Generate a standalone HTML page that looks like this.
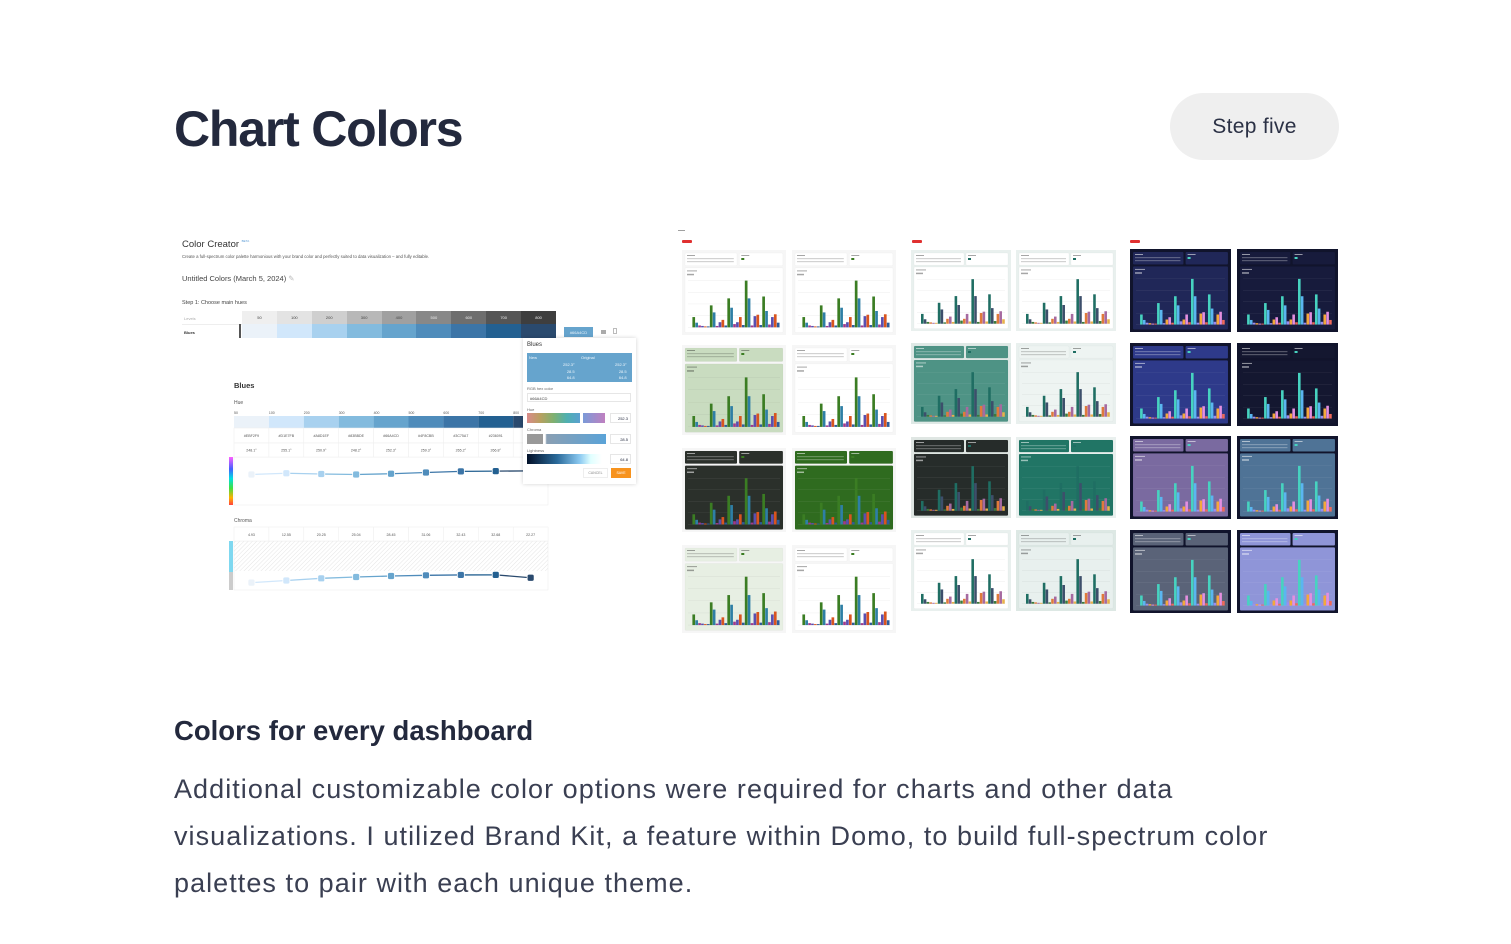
<!DOCTYPE html>
<html><head><meta charset="utf-8">
<style>
html,body{margin:0;padding:0;background:#fff;}
body{width:1511px;height:944px;position:relative;overflow:hidden;font-family:"Liberation Sans",sans-serif;color:#262c40;}
.a{position:absolute;}
#title{left:174px;top:100px;font-size:50px;font-weight:bold;letter-spacing:-1.2px;color:#23293d;margin:0;white-space:nowrap;}
#step{left:1170px;top:93px;width:169px;height:67px;border-radius:34px;background:#efefef;font-size:21px;letter-spacing:0.3px;color:#2b3145;display:flex;align-items:center;justify-content:center;}
#sub{left:174px;top:715px;font-size:27.5px;font-weight:bold;color:#23293d;margin:0;white-space:nowrap;letter-spacing:0px;}
#para{left:174px;top:766px;font-size:27px;line-height:47px;letter-spacing:1.05px;color:#3a3f52;margin:0;white-space:nowrap;}
.t{font-size:5px;color:#555;white-space:nowrap;}
</style></head><body>
<h1 id="title" class="a">Chart Colors</h1>
<div id="step" class="a">Step five</div>

<div id="creator">
  <div class="a" style="left:182px;top:239px;font-size:9.5px;color:#333;">Color Creator <span style="font-size:3px;color:#5a9bd5;vertical-align:top">BETA</span></div>
  <div class="a t" style="left:182px;top:254px;font-size:4.3px;">Create a full-spectrum color palette harmonious with your brand color and perfectly suited to data visualization – and fully editable.</div>
  <div class="a" style="left:182px;top:274px;font-size:7.5px;color:#444;white-space:nowrap">Untitled Colors (March 5, 2024) <span style="color:#bbb">✎</span></div>
  <div class="a t" style="left:182px;top:300px;font-size:5.5px;color:#444">Step 1: Choose main hues</div>
  <div class="a t" style="left:184px;top:316px;font-size:4px;color:#aaa">Levels</div>
  <div class="a t" style="left:184px;top:330px;font-size:4px;color:#333;font-weight:bold">Blues</div>
  <div class="a" style="left:182px;top:324px;width:374px;height:1px;background:#eee"></div>
  <div id="levelrow" class="a" style="left:242px;top:311px;width:314px;height:13px;display:flex"></div>
  <div class="a" style="left:239px;top:324px;width:2px;height:14px;background:#555"></div>
  <div id="bluerow" class="a" style="left:242px;top:324px;width:314px;height:14px;display:flex"></div>
  <div class="a" style="left:564px;top:327px;width:29px;height:10px;background:#66a4cd;color:#e8f2fa;font-size:4px;display:flex;align-items:center;justify-content:center">#66A4CD</div>
  <div class="a" style="left:601px;top:330px;width:5px;height:4px;background:#aaa"></div>
  <div class="a" style="left:613px;top:328px;width:4px;height:6px;border:1px solid #bbb;box-sizing:border-box"></div>

  <div class="a" style="left:234px;top:381px;font-size:7.5px;font-weight:bold;color:#333">Blues</div>
  <div class="a t" style="left:234px;top:400px;font-size:5px">Hue</div>
  <div class="a t" style="left:234px;top:518px;font-size:5px">Chroma</div>
  <svg id="lc" class="a" style="left:0;top:0" width="700" height="620"></svg>

  <div class="a" style="left:523px;top:338px;width:113px;height:146px;background:#fff;box-shadow:0 0 4px rgba(0,0,0,0.18);">
    <div class="a" style="left:4px;top:4px;font-size:6px;color:#333">Blues</div>
    <div class="a" style="left:4px;top:15px;width:105px;height:29px;background:#66a4cd;color:#eef6fc;font-size:4px">
      <span class="a" style="left:2px;top:2px">New</span><span class="a" style="left:54px;top:2px">Original</span>
      <span class="a" style="left:36px;top:9px;line-height:6.5px;text-align:right">252.3°<br>28.5<br>64.8</span>
      <span class="a" style="left:88px;top:9px;line-height:6.5px;text-align:right">252.3°<br>28.5<br>64.8</span>
    </div>
    <div class="a" style="left:4px;top:48px;font-size:4px;color:#666">RGB hex color</div>
    <div class="a" style="left:4px;top:55px;width:104px;height:9px;border:1px solid #e6e6e6;box-sizing:border-box;font-size:4px;color:#444;padding:2px">#66A4CD</div>
    <div class="a" style="left:4px;top:69px;font-size:4px;color:#666">Hue</div>
    <div class="a" style="left:4px;top:75px;width:53px;height:10px;background:linear-gradient(90deg,#d98a8a,#b8a060,#7fb070,#4fb0b0,#5aa0d0)"></div>
    <div class="a" style="left:60px;top:75px;width:22px;height:10px;background:linear-gradient(90deg,#7a9ad8,#c080c0)"></div>
    <div class="a" style="left:87px;top:75px;width:21px;height:10px;border:1px solid #e6e6e6;box-sizing:border-box;font-size:4px;text-align:right;padding:2px">252.3</div>
    <div class="a" style="left:4px;top:89px;font-size:4px;color:#666">Chroma</div>
    <div class="a" style="left:4px;top:96px;width:79px;height:10px;background:linear-gradient(90deg,#999 0,#999 20%,#fff 20%,#fff 23%,#8a9fb3 25%,#5aa3d8)"></div>
    <div class="a" style="left:87px;top:96px;width:21px;height:10px;border:1px solid #e6e6e6;box-sizing:border-box;font-size:4px;text-align:right;padding:2px">28.5</div>
    <div class="a" style="left:4px;top:110px;font-size:4px;color:#666">Lightness</div>
    <div class="a" style="left:4px;top:116px;width:75px;height:10px;background:linear-gradient(90deg,#021028,#2a6a9a 40%,#8ac8f0 70%,#e0ffff 85%,#fff)"></div>
    <div class="a" style="left:87px;top:116px;width:21px;height:10px;border:1px solid #e6e6e6;box-sizing:border-box;font-size:4px;text-align:right;padding:2px">64.8</div>
    <div class="a" style="left:60px;top:130px;width:25px;height:10px;border:1px solid #eee;box-sizing:border-box;font-size:3.5px;color:#888;text-align:center;line-height:9px">CANCEL</div>
    <div class="a" style="left:88px;top:130px;width:20px;height:10px;background:#f7931e;color:#fff;font-size:3.5px;text-align:center;line-height:10px">SAVE</div>
  </div>
</div>

<svg id="thumbs" class="a" style="left:0;top:0" width="1511" height="700"></svg>

<h2 id="sub" class="a">Colors for every dashboard</h2>
<p id="para" class="a">Additional customizable color options were required for charts and other data<br>visualizations. I utilized Brand Kit, a feature within Domo, to build full-spectrum color<br>palettes to pair with each unique theme.</p>

<script>
// ---- data ----
const levels = ['50','100','200','300','400','500','600','700','800'];
const grays = ['#efefef','#e3e3e3','#cfcfcf','#b8b8b8','#a0a0a0','#888','#6e6e6e','#555','#3e3e3e'];
const blues = ['#EBF2F9','#D1E7FB','#A8D1EF','#83BBDE','#66A4CD','#4F8CBB','#3C75A7','#236091','#2A4A6E'];
const hexLabels = ['#EBF2F9','#D1E7FB','#A8D1EF','#83BBDE','#66A4CD','#4F8CBB','#3C75A7','#236091','#2A4A6E'];
const hueValues = [248.1,255.1,250.9,248.2,252.3,259.3,265.2,266.8,268.0];
const chromaValues = [4.93,12.55,20.25,25.04,28.45,31.06,32.43,32.68,22.27];
const thumbCategories = ['A','B','C','D','E'];
const s1 = [22,47,62,100,66];
const s2 = [10,32,42,62,35];
const s3 = [4,3,7,4,6];
const s4 = [3,11,11,24,22];
const s5 = [2,16,22,27,28];
const s6 = [2,4,5,5,10];
const seriesList = [s1,s2,s3,s4,s5,s6];

const NS='http://www.w3.org/2000/svg';
function mk(parent,tag,attrs){const e=document.createElementNS(NS,tag);for(const k in attrs)e.setAttribute(k,attrs[k]);parent.appendChild(e);return e;}

const lr=document.getElementById('levelrow'), br=document.getElementById('bluerow');
levels.forEach((l,i)=>{
  const d=document.createElement('div');
  
  
  d.style.cssText='flex:1;background:'+grays[i]+';font-size:4px;color:'+(i<5?'#444':'#eee')+';display:flex;align-items:center;justify-content:center';
  d.textContent=l; lr.appendChild(d);
  const b=document.createElement('div');
  
  
  b.style.cssText='flex:1;background:'+blues[i];
  br.appendChild(b);
});

const lc=document.getElementById('lc');
const cx0=234, cw=34.9;
function xc(i){return cx0+cw*i+cw/2;}
function yHue(v){return 474.5-(v-248)*0.18;}
function yChroma(v){return 584-v*0.28;}
mk(lc,'defs',{}).innerHTML='<linearGradient id="rb" x1="0" y1="0" x2="0" y2="1"><stop offset="0" stop-color="#ff60ff"/><stop offset="0.25" stop-color="#4060ff"/><stop offset="0.45" stop-color="#00e0e0"/><stop offset="0.65" stop-color="#40e040"/><stop offset="0.85" stop-color="#ffb000"/><stop offset="1" stop-color="#ff4040"/></linearGradient><pattern id="hatch" width="3" height="3" patternUnits="userSpaceOnUse" patternTransform="rotate(45)"><line x1="0" y1="0" x2="0" y2="3" stroke="#e4e4e4" stroke-width="1"/></pattern>';
mk(lc,'rect',{x:229,y:457,width:4,height:48,fill:'url(#rb)'});
mk(lc,'rect',{x:234,y:457,width:314,height:48,fill:'#fff',stroke:'#eee','stroke-width':0.6});
mk(lc,'rect',{x:229,y:541,width:4,height:49,fill:'#7fd8f0'});
mk(lc,'rect',{x:229,y:572,width:4,height:18,fill:'#ccc'});
mk(lc,'rect',{x:234,y:541,width:314,height:49,fill:'#fff',stroke:'#eee','stroke-width':0.6});
mk(lc,'rect',{x:234,y:541,width:314,height:30,fill:'url(#hatch)'});
levels.forEach((l,i)=>{
  const x=cx0+cw*i;
  const tl=mk(lc,'text',{x:x,y:414,'font-size':3.5,fill:'#555','font-family':'Liberation Sans'}); tl.textContent=l;
  const sw=mk(lc,'rect',{x:x,y:416,width:cw,height:12,fill:blues[i]});
  
  
  mk(lc,'rect',{x:x,y:428,width:cw,height:15,fill:'#fff',stroke:'#eee','stroke-width':0.5});
  mk(lc,'rect',{x:x,y:443,width:cw,height:14,fill:'#fff',stroke:'#eee','stroke-width':0.5});
  const t1=mk(lc,'text',{x:x+cw/2,y:437,'font-size':3.6,fill:'#555','text-anchor':'middle','font-family':'Liberation Sans'}); t1.textContent=hexLabels[i];
  const t2=mk(lc,'text',{x:x+cw/2,y:451.5,'font-size':3.6,fill:'#555','text-anchor':'middle','font-family':'Liberation Sans'}); t2.textContent=hueValues[i].toFixed(1)+'°';
  mk(lc,'rect',{x:x,y:527,width:cw,height:14,fill:'#fff',stroke:'#eee','stroke-width':0.5});
  const t3=mk(lc,'text',{x:x+cw/2,y:536,'font-size':3.6,fill:'#555','text-anchor':'middle','font-family':'Liberation Sans'}); t3.textContent=chromaValues[i].toFixed(2).replace(/0$/,'');
});
function series(vals,yf,name){
  for(let i=0;i<vals.length-1;i++){
    mk(lc,'line',{x1:xc(i),y1:yf(vals[i]),x2:xc(i+1),y2:yf(vals[i+1]),stroke:blues[Math.min(i+1,8)],'stroke-width':1.3});
  }
  vals.forEach((v,i)=>{
    const p=mk(lc,'rect',{x:xc(i)-3.5,y:yf(v)-3.5,width:7,height:7,rx:2,fill:blues[i],stroke:'#fff','stroke-width':0.8});
    
    
  });
}
series(hueValues,yHue,'hue');
series(chromaValues,yChroma,'chroma');

const palA=['#3b7d23','#2e7fa5','#a13a8a','#5a4fb0','#d9541e','#2d5c9a'];
const palB=['#1f6e63','#3d4f6b','#3b7a3b','#e07a3b','#a66aa0','#e8b04a'];
const palC=['#47d3c0','#5ab6f0','#9b8cf0','#f4a83a','#e58fe0','#f06a5a'];
const T=[
 [682,250,104,85,'#f6f6f6','#ffffff',palA],[792,250,104,85,'#f6f6f6','#ffffff',palA],
 [682,345,104,90,'#f6f6f6','#c9dcc0',palA],[792,345,104,90,'#f6f6f6','#ffffff',palA],
 [682,448,104,84,'#f6f6f6','#2b302b',palA],[792,448,104,84,'#f6f6f6','#2f6b1f',palA],
 [682,545,104,88,'#f6f6f6','#e7efe3',palA],[792,545,104,88,'#f6f6f6','#ffffff',palA],
 [911,250,100,81,'#e9f0ee','#ffffff',palB],[1016,250,100,81,'#e9f0ee','#ffffff',palB],
 [911,343,100,81,'#dfe9e6','#4e9385',palB],[1016,343,100,81,'#e9f0ee','#eef4f2',palB],
 [911,437,100,81,'#dfe6e3','#262c2a',palB],[1016,437,100,81,'#e9f0ee','#217565',palB],
 [911,530,100,81,'#e9f0ee','#ffffff',palB],[1016,530,100,81,'#dde8e4','#e8f0ee',palB],
 [1130,249,101,83,'#11142c','#202758',palC],[1237,249,101,83,'#11142c','#171b3c',palC],
 [1130,343,101,83,'#11142c','#2e3a8a',palC],[1237,343,101,83,'#11142c','#141730',palC],
 [1130,436,101,83,'#11142c','#7a6aa0',palC],[1237,436,101,83,'#11142c','#4f7396',palC],
 [1130,530,101,83,'#11142c','#5a6378',palC],[1237,530,101,83,'#11142c','#8f95d8',palC]
];
const th=document.getElementById('thumbs');
mk(th,'rect',{x:678,y:230,width:7,height:0.8,fill:'#888'});
[[682,240],[912,240],[1130,240]].forEach(p=>mk(th,'rect',{x:p[0],y:p[1],width:10,height:3,rx:1,fill:'#e03030'}));
T.forEach((t,k)=>{
  const [x,y,w,h,bg,pn,pal]=t;
  const g=mk(th,'g',{});
  
  
  mk(g,'rect',{x:x,y:y,width:w,height:h,fill:bg});
  const dark=parseInt(pn.slice(1,3),16)<0x90;
  const txt=dark?'rgba(255,255,255,0.55)':'rgba(0,0,0,0.35)';
  mk(g,'rect',{x:x+3,y:y+3,width:w*0.5,height:h*0.15,fill:pn,stroke:'rgba(0,0,0,0.06)','stroke-width':0.4,rx:1});
  mk(g,'rect',{x:x+w*0.55,y:y+3,width:w*0.42,height:h*0.15,fill:pn,stroke:'rgba(0,0,0,0.06)','stroke-width':0.4,rx:1});
  mk(g,'rect',{x:x+3,y:y+h*0.21,width:w-6,height:h*0.76,fill:pn,stroke:'rgba(0,0,0,0.06)','stroke-width':0.4,rx:1});
  mk(g,'rect',{x:x+5,y:y+5,width:8,height:1,fill:txt});
  mk(g,'rect',{x:x+5,y:y+8,width:w*0.45,height:1.2,fill:txt,opacity:0.5});
  mk(g,'rect',{x:x+5,y:y+11,width:w*0.45,height:1.2,fill:txt,opacity:0.5});
  mk(g,'rect',{x:x+w*0.57,y:y+5,width:8,height:1,fill:txt});
  mk(g,'rect',{x:x+w*0.57,y:y+8,width:3,height:2,fill:pal[0]});
  mk(g,'rect',{x:x+5,y:y+h*0.24,width:10,height:1,fill:txt});
  mk(g,'rect',{x:x+5,y:y+h*0.28,width:7,height:1.5,fill:txt});
  const base=y+h*0.91, maxH=h*0.55;
  for(let j=0;j<5;j++) mk(g,'line',{x1:x+6,x2:x+w-6,y1:base-maxH*j/4,y2:base-maxH*j/4,stroke:txt,'stroke-width':0.2,opacity:0.5});
  const bw=w*0.028;
  thumbCategories.forEach((c,i)=>{
    const gx=x+w*0.1+i*w*0.168;
    seriesList.forEach((s,si)=>{
      const bh=s[i]/100*maxH;
      const r=mk(g,'rect',{x:gx+si*bw,y:base-bh,width:bw*0.92,height:bh,fill:pal[si]});
      
      
    });
  });
});
</script>
</body></html>
